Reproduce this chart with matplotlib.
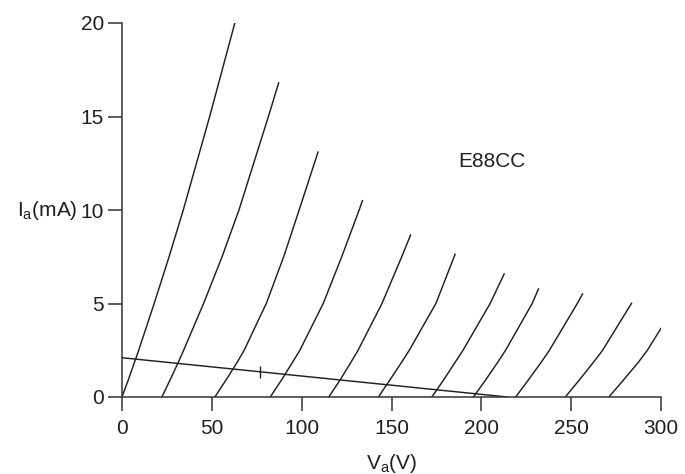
import matplotlib
matplotlib.use("Agg")
import matplotlib.pyplot as plt

plt.rcParams['font.family'] = ['Liberation Sans', 'DejaVu Sans']
plt.rcParams['mathtext.default'] = 'regular'

# anode characteristics: anode voltage (V) vs anode current (mA), one curve per grid bias
curve_va = [
    [0, 3.6, 7.0, 9.3, 17.9, 26.2, 34.1, 48.8, 55.8, 62.8],
    [22.2, 26.9, 31.4, 34.3, 45.4, 55.7, 65.1, 81.5, 87.2],
    [51.7, 58.1, 64.2, 68.0, 80.3, 90.0, 98.6, 109.1],
    [82.5, 89.0, 95.0, 99.0, 112.0, 122.3, 132.0, 133.8],
    [115.1, 121.6, 127.5, 131.4, 144.7, 155.7, 160.6],
    [142.7, 149.3, 155.7, 159.9, 174.7, 185.4],
    [172.5, 179.2, 185.5, 189.8, 204.9, 212.7],
    [195.6, 202.6, 209.2, 213.5, 228.3, 231.8],
    [219.1, 226.4, 233.4, 237.9, 253.4, 256.3],
    [246.7, 254.8, 262.5, 267.5, 283.6],
    [271.0, 279.4, 287.5, 292.4, 300.0],
]
curve_ia = [
    [0, 0.94, 1.87, 2.5, 5, 7.5, 10, 15, 17.5, 20],
    [0, 0.94, 1.87, 2.5, 5, 7.5, 10, 15, 16.8],
    [0, 0.94, 1.87, 2.5, 5, 7.5, 10, 13.1],
    [0, 0.94, 1.87, 2.5, 5, 7.5, 10, 10.5],
    [0, 0.94, 1.87, 2.5, 5, 7.5, 8.66],
    [0, 0.94, 1.87, 2.5, 5, 7.63],
    [0, 0.94, 1.87, 2.5, 5, 6.58],
    [0, 0.94, 1.87, 2.5, 5, 5.78],
    [0, 0.94, 1.87, 2.5, 5, 5.51],
    [0, 0.94, 1.87, 2.5, 5.01],
    [0, 0.94, 1.87, 2.5, 3.67],
]

# load line and operating point
load_va = [0, 214.5]
load_ia = [2.1, 0]
op_va = 76.6
op_ia = 1.35

ink = '#231f20'

fig = plt.figure(figsize=(6.85, 4.74), dpi=100)
ax = fig.add_axes([122/685, 77/474, 539/685, 374/474])

for va, ia in zip(curve_va, curve_ia):
    ax.plot(va, ia, color=ink, lw=1.05, solid_joinstyle='round')

ax.plot(load_va, load_ia, color=ink, lw=1.05)
ax.plot(op_va, op_ia, marker='|', ms=8.5, mew=1.0, color=ink)

ax.text(206, 12.6, 'E88CC', fontsize=15, color=ink, ha='center', va='center')

ax.set_xlim(0, 300)
ax.set_ylim(0, 20)
ax.set_xticks([0, 50, 100, 150, 200, 250, 300])
ax.set_yticks([0, 5, 10, 15, 20])

for side in ['top', 'right']:
    ax.spines[side].set_visible(False)
for side in ['left', 'bottom']:
    ax.spines[side].set_color('#333333')
    ax.spines[side].set_linewidth(1.1)

ax.tick_params(direction='out', length=10, width=1.1, color='#333333',
               labelsize=15, labelcolor=ink)
ax.tick_params(axis='x', pad=6)
ax.tick_params(axis='y', pad=3)

ax.set_xlabel('V$_a$(V)', fontsize=15, color=ink)
ax.xaxis.set_label_coords(0.5, -0.148)
ax.xaxis.label.set_va('top')

ax.set_ylabel('I$_a$(mA)', fontsize=15, color=ink, rotation=0, ha='right', va='baseline')
ax.yaxis.set_label_coords(-0.083, 0.484)

fig.savefig('out.png', dpi=100)
